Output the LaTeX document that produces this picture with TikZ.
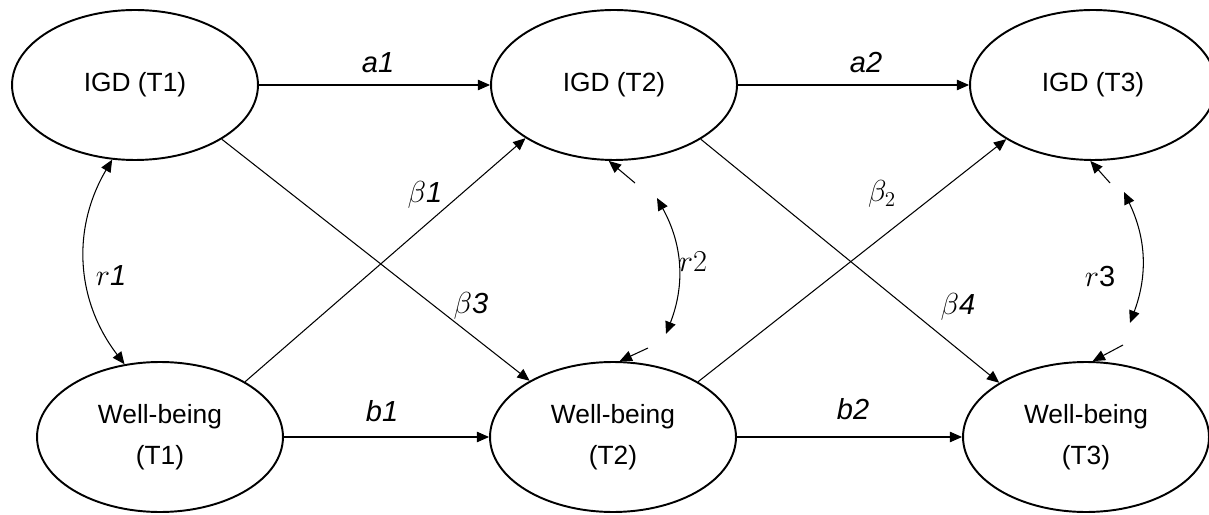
\documentclass[tikz,border=0pt]{standalone}
\usepackage{fontspec}
\setmainfont{Liberation Sans}
\usetikzlibrary{shapes.geometric,arrows.meta}

\begin{document}
\begin{tikzpicture}[x=0.02cm,y=0.02cm,
    >={Triangle[length=7pt,width=6pt]},
    latent/.style={draw,ellipse,line width=1.1pt,minimum width=4.92cm,minimum height=3cm,
        inner sep=0pt,align=center,font=\fontsize{15}{23}\selectfont},
    regr/.style={->,line width=0.6pt},
    corr/.style={<->,line width=0.6pt},
    coef/.style={font=\fontsize{16.5}{20}\selectfont\itshape}]
    \useasboundingbox (0,0) rectangle (1209,514);

    % Latent variables
    \node[latent] (igd1) at (135,429) {IGD (T1)};
    \node[latent] (igd2) at (614,429) {IGD (T2)};
    \node[latent] (igd3) at (1093,429) {IGD (T3)};
    \node[latent] (wb1) at (160,77) {Well-being\\(T1)};
    \node[latent] (wb2) at (613,77) {Well-being\\(T2)};
    \node[latent] (wb3) at (1086,77) {Well-being\\(T3)};

    % Autoregressive paths
    \draw[regr] (igd1) -- (igd2);
    \draw[regr] (igd2) -- (igd3);
    \draw[regr] (wb1) -- (wb2);
    \draw[regr] (wb2) -- (wb3);

    % Cross-lagged paths
    \draw[regr] (wb1.33) -- (igd2.211);
    \draw[regr] (igd1.328) -- (wb2.146);
    \draw[regr] (wb2.33) -- (igd3.212);
    \draw[regr] (igd2.328) -- (wb3.148);

    % Path coefficients
    \node[coef] (la1) at (378,451) {a1};
    \node[coef] (la2) at (866,451) {a2};
    \node[coef] (lb1) at (382,103) {b1};
    \node[coef] (lb2) at (853,105) {b2};
    \node[coef] (lbeta1) at (425,319) {$\beta$1};
    \node[coef] (lbeta2) at (882,320) {$\beta_2$};
    \node[coef] (lbeta3) at (471,208) {$\beta$3};
    \node[coef] (lbeta4) at (958,207) {$\beta$4};

    % Residual correlations
    \coordinate (r2top) at (657,316);
    \coordinate (r2bot) at (666,180);
    \coordinate (r2in) at (635,331);
    \coordinate (r2out) at (648,166);
    \coordinate (r3top) at (1124,322);
    \coordinate (r3bot) at (1130,191);
    \coordinate (r3in) at (1110,331);
    \coordinate (r3out) at (1123,169);

    \draw[corr] (igd1.253) to[bend right=34] (wb1.116);
    \draw[corr] (r2top) to[bend left=25] (r2bot);
    \draw[regr] (r2in) -- (igd2.266);
    \draw[regr] (r2out) -- (wb2.85);
    \draw[corr] (r3top) to[bend left=23] (r3bot);
    \draw[regr] (r3in) -- (igd3.268);
    \draw[regr] (r3out) -- (wb3.85);

    \node[coef] (lr1) at (111,238) {$r$1};
    \node[coef] (lr2) at (693,252) {$r2$};
    \node[coef] (lr3) at (1100,237) {$r$\upshape 3};
\end{tikzpicture}
\end{document}
